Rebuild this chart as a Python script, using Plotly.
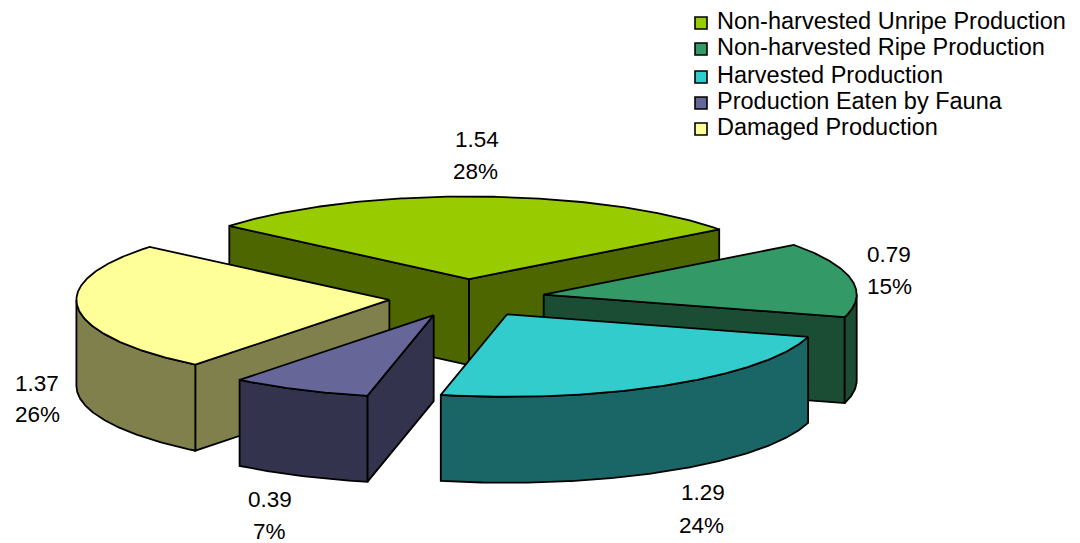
import math
import plotly.graph_objects as go

# ---- data ----
categories = ["Non-harvested Unripe Production", "Non-harvested Ripe Production",
              "Harvested Production", "Production Eaten by Fauna", "Damaged Production"]
values = [1.54, 0.79, 1.29, 0.39, 1.37]
percent_labels = ["28%", "15%", "24%", "7%", "26%"]

# ---- style / layout constants ----
top_colors = ["#99CC00", "#339966", "#33CCCC", "#666699", "#FFFF99"]
wall_colors = ["#4D6600", "#1A4D33", "#1A6666", "#33334D", "#80804D"]
value_label_pos = [(477, 139), (889, 254), (703, 492), (270, 499), (37, 383)]
percent_label_pos = [(475, 171), (889, 286), (701, 525), (269, 531), (37, 414)]
legend_rows_y = [21, 47, 75, 101, 127]
LEGEND_MARK_X, LEGEND_TEXT_X = 701, 717
W, H = 1080, 543
FONT = "Liberation Sans"
LABEL_SIZE = 22.5
LEGEND_SIZE = 23.5
CX, CY = 467.0, 298.0      # pie centre before explosion
RX, RY = 313.0, 82.5       # projected radii of the top ellipse
EX, EY = 78.0, 19.0        # explosion offset
DEPTH = 86.0               # extrusion height
START = -50.0              # angle of first slice, clockwise from the top
LINE = 1.8


def pt(ax, ay, t, dy=0.0):
    a = math.radians(t)
    return ax + RX * math.sin(a), ay - RY * math.cos(a) + dy


def arc(ax, ay, t0, t1, dy=0.0):
    n = max(2, int(abs(t1 - t0) * 2))
    return [pt(ax, ay, t0 + (t1 - t0) * i / n, dy=dy) for i in range(n + 1)]


def poly(points, fill, name):
    xs = [p[0] for p in points] + [points[0][0]]
    ys = [p[1] for p in points] + [points[0][1]]
    return go.Scatter(x=xs, y=ys, mode="lines", fill="toself", fillcolor=fill,
                      line=dict(color="#000000", width=LINE), name=name,
                      showlegend=False, hoverinfo="name")


total = sum(values)
slices = []
t = START
for i, v in enumerate(values):
    span = v / total * 360.0
    slices.append((i, t, t + span))
    t += span

fig = go.Figure()
# paint back-to-front, by how far forward each slice's middle sits
for i, t0, t1 in sorted(slices, key=lambda s: -math.cos(math.radians((s[1] + s[2]) / 2))):
    mid = (t0 + t1) / 2
    ax = CX + EX * math.sin(math.radians(mid))
    ay = CY - EY * math.cos(math.radians(mid))
    name = categories[i]
    # radial cut faces that look toward the viewer
    for edge, normal in ((t0, t0 - 90), (t1, t1 + 90)):
        if math.cos(math.radians(normal)) < 0:
            o = pt(ax, ay, edge)
            fig.add_trace(poly([(ax, ay), o, (o[0], o[1] + DEPTH), (ax, ay + DEPTH)], wall_colors[i], name))
    # outer wall, front half only
    for k in (-1, 0, 1):
        a, b = max(t0, 90 + 360 * k), min(t1, 270 + 360 * k)
        if b > a:
            fig.add_trace(poly(arc(ax, ay, a, b) + arc(ax, ay, b, a, dy=DEPTH), wall_colors[i], name))
    # top face
    fig.add_trace(poly([(ax, ay)] + arc(ax, ay, t0, t1), top_colors[i], name))

# legend: swatches and texts, with the reference's uneven row spacing
for i, name in enumerate(categories):
    fig.add_trace(go.Scatter(x=[LEGEND_MARK_X], y=[legend_rows_y[i] + 2], mode="markers", name=name,
                             showlegend=False, hoverinfo="name",
                             marker=dict(symbol="square", size=12, color=top_colors[i],
                                         line=dict(color="#000000", width=1.6))))
    fig.add_annotation(x=LEGEND_TEXT_X, y=legend_rows_y[i], xref="x", yref="y", showarrow=False,
                       text=name, font=dict(family=FONT, size=LEGEND_SIZE, color="#000000"),
                       xanchor="left", yanchor="middle", xshift=-2)

# value / percent labels
for i in range(len(values)):
    for (x, y), text in ((value_label_pos[i], f"{values[i]:.2f}"), (percent_label_pos[i], percent_labels[i])):
        fig.add_annotation(x=x, y=y, xref="x", yref="y", showarrow=False, text=text,
                           font=dict(family=FONT, size=LABEL_SIZE, color="#000000"),
                           xanchor="center", yanchor="middle")

fig.update_layout(
    width=W, height=H, autosize=False,
    margin=dict(l=0, r=0, t=0, b=0),
    paper_bgcolor="#FFFFFF", plot_bgcolor="#FFFFFF",
    xaxis=dict(range=[0, W], visible=False, fixedrange=True),
    yaxis=dict(range=[H, 0], visible=False, fixedrange=True),
    showlegend=False,
)
fig.write_html("out.html", config={"displayModeBar": False},
               post_script="document.body.style.margin='0';document.body.style.overflow='hidden';")
